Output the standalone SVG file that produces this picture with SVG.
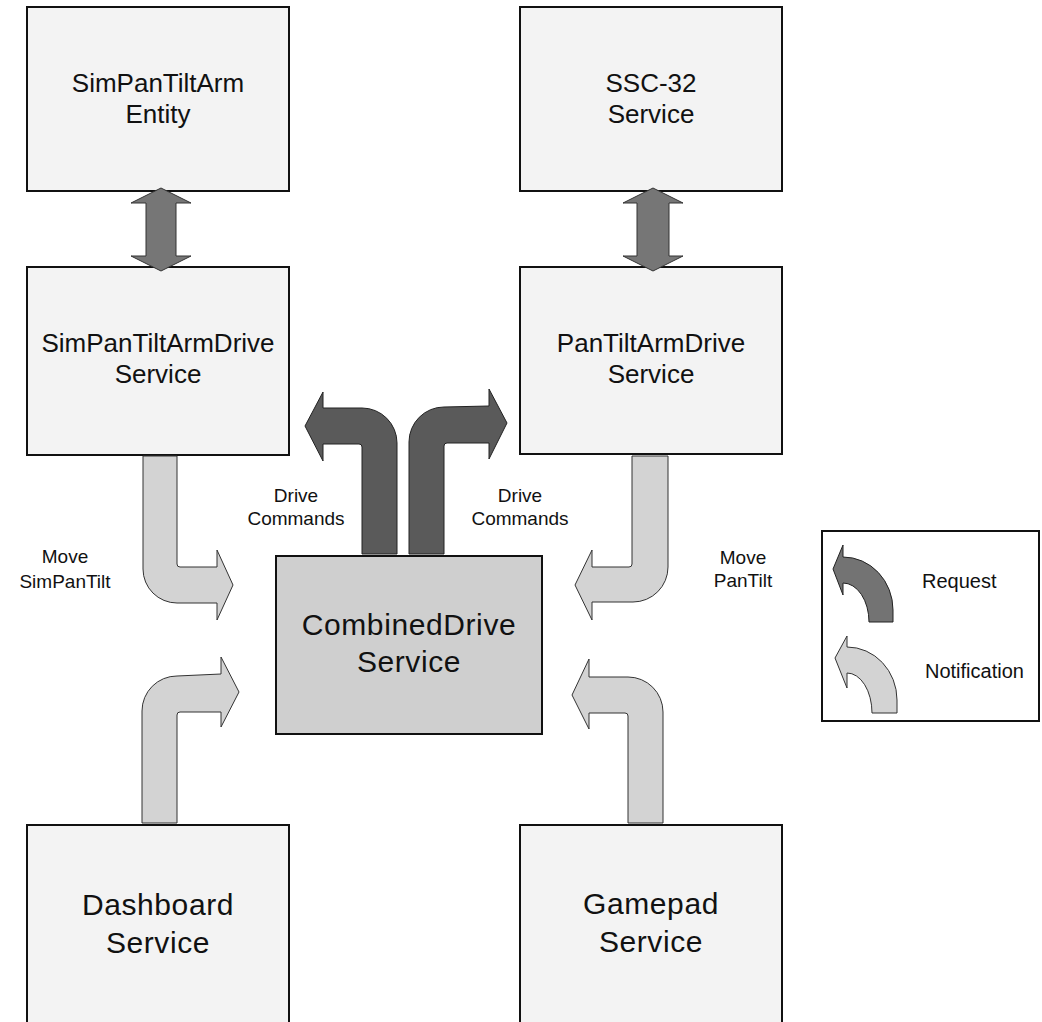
<svg xmlns="http://www.w3.org/2000/svg" width="1042" height="1022" viewBox="0 0 1042 1022">
  <style>
    .box { fill: #f3f3f3; stroke: #111; stroke-width: 2; }
    .hub { fill: #cfcfcf; stroke: #111; stroke-width: 2; }
    .legend { fill: #ffffff; stroke: #111; stroke-width: 2; }
    .req { fill: #5a5a5a; stroke: #222; stroke-width: 1; stroke-linejoin: round; }
    .link { fill: #767676; stroke: #333; stroke-width: 1; }
    .note { fill: #d3d3d3; stroke: #333; stroke-width: 1; stroke-linejoin: round; }
    .legreq { fill: #737373; stroke: #222; stroke-width: 1; }
    text { font-family: "Liberation Sans", Arial, sans-serif; fill: #111; text-anchor: middle; }
    .t26 { font-size: 26px; }
    .t30 { font-size: 30px; letter-spacing: 0.6px; }
    .t19 { font-size: 19px; }
    .t20 { font-size: 20px; text-anchor: start; }
  </style>

  <!-- services -->
  <g id="sim-entity">
    <rect class="box" x="27" y="7" width="262" height="184"/>
    <text class="t26" x="158" y="92">SimPanTiltArm</text>
    <text class="t26" x="158" y="123">Entity</text>
  </g>
  <g id="ssc32">
    <rect class="box" x="520" y="7" width="262" height="184"/>
    <text class="t26" x="651" y="92">SSC-32</text>
    <text class="t26" x="651" y="123">Service</text>
  </g>
  <g id="sim-drive">
    <rect class="box" x="27" y="267" width="262" height="188"/>
    <text class="t26" x="158" y="352">SimPanTiltArmDrive</text>
    <text class="t26" x="158" y="383">Service</text>
  </g>
  <g id="pantilt-drive">
    <rect class="box" x="520" y="267" width="262" height="187"/>
    <text class="t26" x="651" y="352">PanTiltArmDrive</text>
    <text class="t26" x="651" y="383">Service</text>
  </g>
  <g id="combined-drive">
    <rect class="hub" x="276" y="556" width="266" height="178"/>
    <text class="t30" x="409" y="635">CombinedDrive</text>
    <text class="t30" x="409" y="672">Service</text>
  </g>
  <g id="dashboard">
    <rect class="box" x="27" y="825" width="262" height="230"/>
    <text class="t30" x="158" y="915">Dashboard</text>
    <text class="t30" x="158" y="953">Service</text>
  </g>
  <g id="gamepad">
    <rect class="box" x="520" y="825" width="262" height="230"/>
    <text class="t30" x="651" y="914">Gamepad</text>
    <text class="t30" x="651" y="952">Service</text>
  </g>

  <!-- connectors -->
  <g id="connectors">
    <!-- two-way links between entity/hardware and drive services -->
    <polygon class="link" points="161,188 191,203 176,203 176,256 191,256 161,271 131,256 146,256 146,203 131,203"/>
    <polygon class="link" points="653,188 683,203 669,203 669,256 683,256 653,271 623,256 637,256 637,203 623,203"/>

    <!-- drive commands (requests) out of the combined service -->
    <path class="req" d="M362,554 L362,447 Q362,444 359,444 L323,444 L323,461 L305,426 L323,392 L323,408 L362,408 A35,35 0 0 1 397,443 L397,554 Z"/>
    <path class="req" d="M444,554 L444,446 Q444,443 447,443 L489,443 L489,459 L507,423 L489,389 L489,406 L444,407 A35,35 0 0 0 409,442 L409,554 Z"/>

    <!-- notifications into the combined service -->
    <path class="note" d="M177,456 L177,564 Q177,567 180,567 L217,567 L217,550 L233,585 L217,620 L217,603 L177,603 A34,34 0 0 1 143,569 L143,456 Z"/>
    <path class="note" d="M177,823 L177,715 Q177,712 180,712 L221,712 L221,727 L239,692 L221,657 L221,674 L177,676 A35,35 0 0 0 142,711 L142,823 Z"/>
    <path class="note" d="M632,456 L632,564 Q632,567 629,567 L592,567 L592,550 L575,585 L592,620 L592,602 L633,602 A35,35 0 0 0 668,567 L668,456 Z"/>
    <path class="note" d="M628,823 L628,716 Q628,713 625,713 L589,713 L589,729 L572,695 L589,659 L589,677 L628,677 A35,35 0 0 1 663,712 L663,823 Z"/>

    <!-- labels -->
    <text class="t19" x="296" y="502">Drive</text>
    <text class="t19" x="296" y="525">Commands</text>
    <text class="t19" x="520" y="502">Drive</text>
    <text class="t19" x="520" y="525">Commands</text>
    <text class="t19" x="65" y="563">Move</text>
    <text class="t19" x="65" y="588">SimPanTilt</text>
    <text class="t19" x="743" y="564">Move</text>
    <text class="t19" x="743" y="587">PanTilt</text>
  </g>

  <!-- key -->
  <g id="legend">
    <rect class="legend" x="822" y="531" width="217" height="190"/>
    <path class="legreq" d="M869,622 L893,622 L893,610 A50,53 0 0 0 843,557 L843,545 L833,569 L843,595 L843,583 A26,39 0 0 1 869,622 Z"/>
    <path class="note" d="M872,713 L897,713 L897,700 A50,53 0 0 0 847,647 L847,636 L835,658 L847,688 L847,673 A25,40 0 0 1 872,713 Z"/>
    <text class="t20" x="922" y="588">Request</text>
    <text class="t20" x="925" y="678">Notification</text>
  </g>
</svg>
